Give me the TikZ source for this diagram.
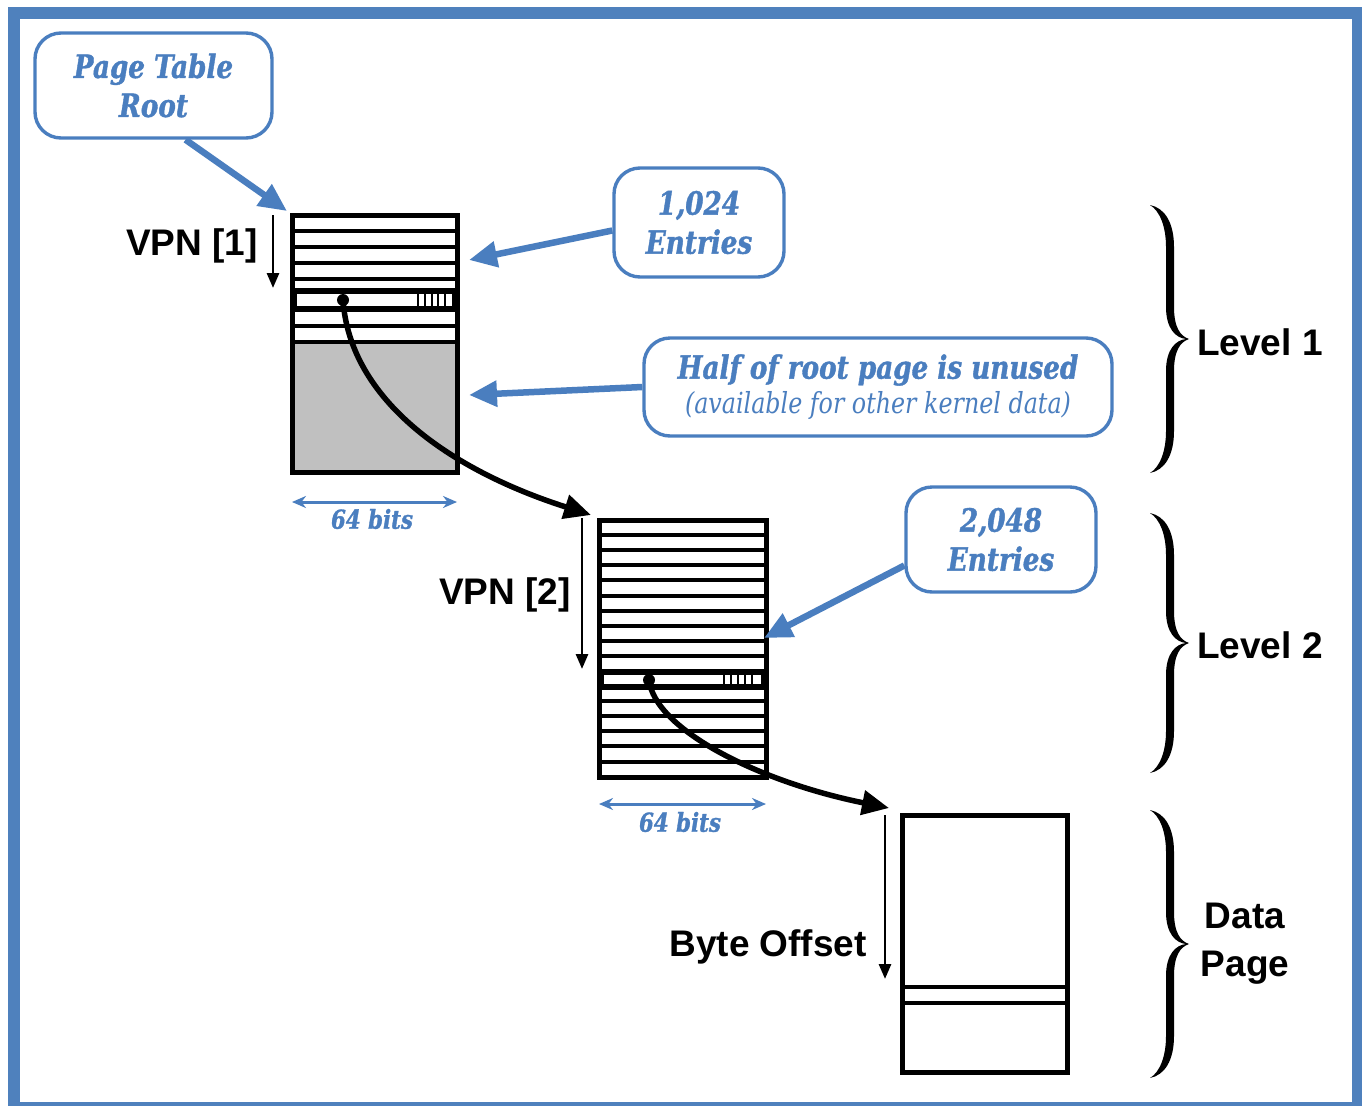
\documentclass[tikz,border=0pt]{standalone}
\usepackage{fontspec}
\setsansfont{Liberation Sans}
\newfontfamily\calfont[FakeStretch=0.82, BoldItalicFeatures={FakeBold=1.2}]{DejaVu Serif}
\usetikzlibrary{arrows.meta,calc}

\definecolor{frameblue}{HTML}{4F81BD}
\definecolor{callblue}{HTML}{4A7EBF}
\definecolor{unusedgrey}{HTML}{C0C0C0}

% filled curly brace opening to the left, tip pointing right
\newcommand{\drawcurly}[3]{%
  \pgfmathsetmacro\cbh{#3-#2}%
  \pgfmathsetmacro\cbm{\cbh/2}%
  \begin{scope}[shift={(#1,#2)}]
    \fill (0,0) .. controls (15,3) and (24,18) .. (24,42)
      -- (24,\cbm-32) .. controls (24,\cbm-12) and (30,\cbm-3) .. (39,\cbm)
      .. controls (30,\cbm+3) and (24,\cbm+12) .. (24,\cbm+32)
      -- (24,\cbh-42) .. controls (24,\cbh-18) and (15,\cbh-3) .. (0,\cbh)
      .. controls (10,\cbh-6) and (16,\cbh-22) .. (16,\cbh-42)
      -- (16,\cbm+32) .. controls (16,\cbm+10) and (26,\cbm+1) .. (36,\cbm)
      .. controls (26,\cbm-1) and (16,\cbm-10) .. (16,\cbm-32)
      -- (16,42) .. controls (16,22) and (10,6) .. (0,0) -- cycle;
  \end{scope}}

\begin{document}
\begin{tikzpicture}[x=1pt,y=-1pt,
  callout/.style={draw=callblue, line width=3.4pt, rounded corners=26pt,
    text=callblue, font=\calfont\bfseries\itshape\fontsize{32}{39}\selectfont,
    align=center, inner sep=0pt},
  callarrow/.style={draw=callblue, line width=6.5pt,
    -{Triangle[length=28pt,width=25pt]}},
  ptrarrow/.style={draw=black, line width=5.5pt,
    -{Triangle[length=27pt,width=24pt]}},
  sizearrow/.style={draw=callblue, line width=3pt,
    {Stealth[length=14pt,width=12pt]}-{Stealth[length=14pt,width=12pt]}},
  idxarrow/.style={draw=black, line width=2.8pt,
    -{Triangle[length=15pt,width=12pt]}},
  tableframe/.style={line width=5pt},
  rowline/.style={line width=3.5pt},
  slotbox/.style={line width=5.5pt, fill=white},
  tick/.style={line width=1.8pt},
  lbl/.style={font=\sffamily\bfseries\fontsize{37}{48}\selectfont, inner sep=0pt},
  bits/.style={text=callblue, font=\calfont\bfseries\itshape\fontsize{26}{30}\selectfont, inner sep=0pt},
]
% page frame
\useasboundingbox (0,0) rectangle (1362,1106);
\fill[white] (0,0) rectangle (1362,1106);
\fill[frameblue] (8,7) rectangle (1362,1106);
\fill[white] (20,19) rectangle (1352,1102);

% ---------- level 1 table (root page) ----------
\coordinate (t1nw) at (292,215);
\coordinate (t1se) at (457,472);
\fill[unusedgrey] (292,342) rectangle (457,472);
\foreach \y in {231,247,263,279,326,342}
  \draw[rowline] (292,\y) -- (457,\y);
\draw[slotbox] (294,291) rectangle (455,309);
\foreach \x in {418,425,432,438,445}
  \draw[tick] (\x,293) -- (\x,307);
\draw[tableframe] (t1nw) rectangle (t1se);
\coordinate (slot1) at (343,300);

% ---------- level 2 table ----------
\coordinate (t2nw) at (599,520);
\coordinate (t2se) at (766,777);
\foreach \y in {535,550,565,580,596,611,626,641,656,701,716,731,746,762}
  \draw[rowline] (599,\y) -- (766,\y);
\draw[slotbox] (601,672) rectangle (764,687);
\foreach \x in {724,731,738,745,752}
  \draw[tick] (\x,674) -- (\x,685);
\draw[tableframe] (t2nw) rectangle (t2se);
\coordinate (slot2) at (649,680);

% ---------- data page ----------
\coordinate (dpnw) at (902,815);
\coordinate (dpse) at (1067,1072);
\draw[rowline] (902,987) -- (1067,987);
\draw[rowline] (902,1003) -- (1067,1003);
\draw[tableframe] (dpnw) rectangle (dpse);

% ---------- index arrows and labels ----------
\coordinate (v1a) at (273,215); \coordinate (v1b) at (273,288);
\coordinate (v2a) at (582,518); \coordinate (v2b) at (582,669);
\coordinate (boa) at (885,815); \coordinate (bob) at (885,979);
\draw[idxarrow] (v1a) -- (v1b);
\draw[idxarrow] (v2a) -- (v2b);
\draw[idxarrow] (boa) -- (bob);
\node[lbl, anchor=east] (vpn1) at (258,246) {VPN [1]};
\node[lbl, anchor=east] (vpn2) at (571,595) {VPN [2]};
\node[lbl, anchor=east] (boff) at (867,947) {Byte Offset};

% ---------- width markers ----------
\coordinate (w1a) at (292,502); \coordinate (w1b) at (457,502);
\coordinate (w2a) at (599,804); \coordinate (w2b) at (766,804);
\draw[sizearrow] (w1a) -- (w1b);
\draw[sizearrow] (w2a) -- (w2b);
\node[bits] (bits1) at (372,519) {64 bits};
\node[bits] (bits2) at (680,822) {64 bits};

% ---------- pointers between levels ----------
\coordinate (t2in) at (591,515);
\coordinate (dpin) at (889,808);
\draw[ptrarrow] (slot1) .. controls (350,400) and (450,470) .. (t2in);
\draw[ptrarrow] (slot2) .. controls (655,730) and (760,782) .. (dpin);
\fill (slot1) circle (6);
\fill (slot2) circle (6);

% ---------- callouts ----------
\node[callout, minimum width=237pt, minimum height=105pt] (ptr)
  at (153.5,85.5) {Page Table\\Root};
\node[callout, minimum width=170pt, minimum height=109pt] (e1024)
  at (699,222.5) {1,024\\Entries};
\node[callout, minimum width=468pt, minimum height=98pt] (half)
  at (878,387) {Half of root page is unused\\[-4pt]
  {\mdseries\fontsize{29}{32}\selectfont(available for other kernel data)}};
\node[callout, minimum width=190pt, minimum height=105pt] (e2048)
  at (1001,539.5) {2,048\\Entries};

\coordinate (ptrtip) at (287,211);
\coordinate (e1024tip) at (469,260);
\coordinate (halftip) at (469,395);
\coordinate (e2048tip) at (764,638);
\draw[callarrow] ([xshift=32pt]ptr.south) -- (ptrtip);
\draw[callarrow] ([yshift=-8pt]e1024.west) -- (e1024tip);
\draw[callarrow] (half.west) -- (halftip);
\draw[callarrow] ([yshift=-26pt]e2048.west) -- (e2048tip);

% ---------- level braces ----------
\drawcurly{1150}{205}{473}
\drawcurly{1150}{513}{773}
\drawcurly{1150}{810}{1078}
\node[lbl, anchor=west] (lv1) at (1197,342) {Level 1};
\node[lbl, anchor=west] (lv2) at (1197,645) {Level 2};
\node[lbl, align=center] (dpage) at (1245,944) {Data\\Page};
\end{tikzpicture}
\end{document}
